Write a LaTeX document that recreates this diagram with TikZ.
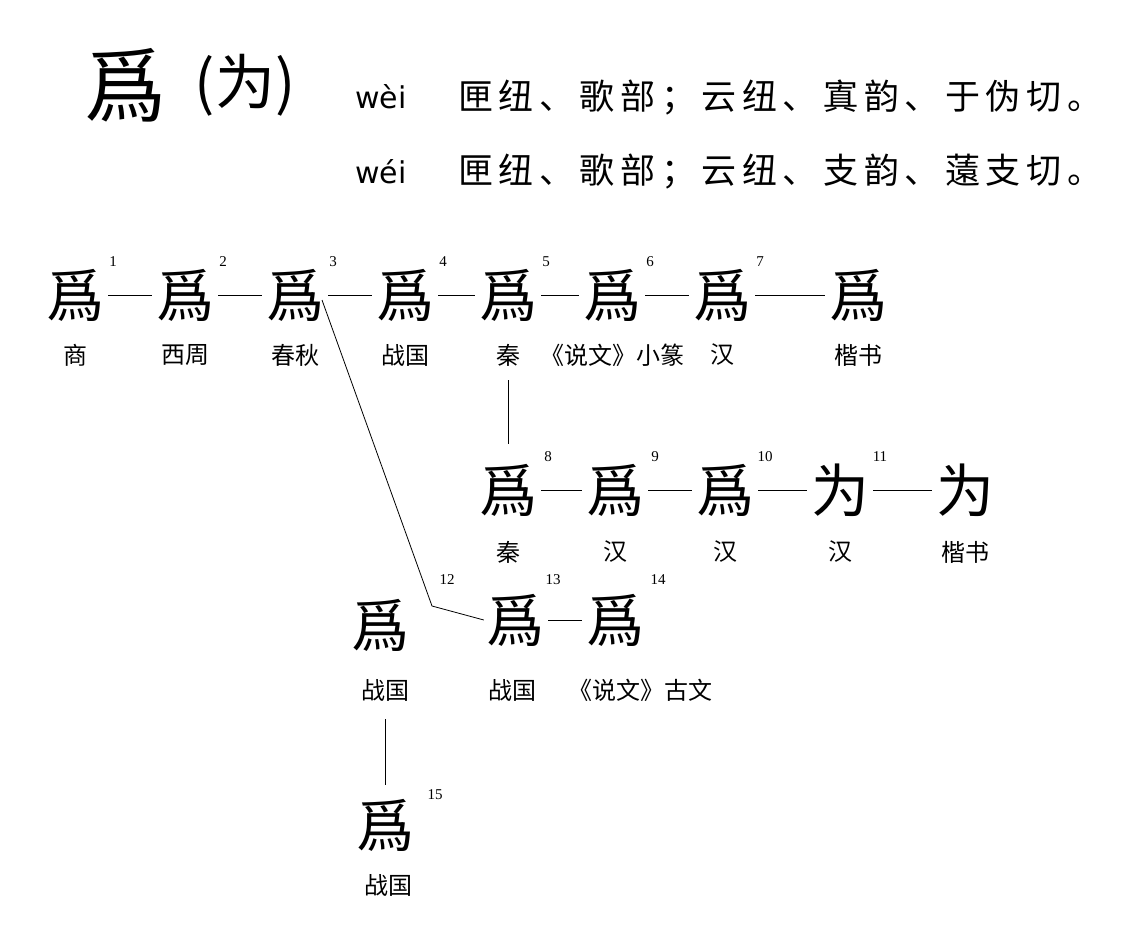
\documentclass[tikz,border=0pt]{standalone}
\usepackage{fontspec}
\newfontfamily\cjk{Noto Sans CJK SC}
\setmainfont{Liberation Serif}
\begin{document}
\begin{tikzpicture}[x=1pt,y=-1pt,
 gl/.style={font=\cjk\fontsize{58}{58}\selectfont,inner sep=0pt},
 lb/.style={font=\cjk\fontsize{24}{24}\selectfont,inner sep=0pt},
 nm/.style={font=\fontsize{15}{15}\selectfont,inner sep=0pt},
 hd/.style={font=\cjk\fontsize{35}{35}\selectfont,inner sep=0pt,anchor=west},
 ln/.style={line width=1pt}]
\useasboundingbox (0,0) rectangle (1135,944);
\node[font=\cjk\fontsize{82}{82}\selectfont,inner sep=0pt] (t1) at (125,85) {爲};
\node[font=\cjk\fontsize{60}{60}\selectfont,inner sep=0pt] (t2) at (245,85) {(为)};
\node[hd] (p1) at (355,97) {\fontspec{DejaVu Sans}\fontsize{30}{30}\selectfont wèi};
\node[hd,font=\cjk\fontsize{35}{35}\selectfont\addfontfeature{LetterSpace=16}] (h1) at (458,97) {匣纽、歌部；云纽、寘韵、于伪切。};
\node[hd] (p2) at (355,172) {\fontspec{DejaVu Sans}\fontsize{30}{30}\selectfont wéi};
\node[hd,font=\cjk\fontsize{35}{35}\selectfont\addfontfeature{LetterSpace=16}] (h2) at (458,172) {匣纽、歌部；云纽、支韵、薳支切。};
% row 1
\foreach \n/\x/\l/\c in {1/75/商/爲,2/185/西周/爲,3/295/春秋/爲,4/405/战国/爲,5/508/秦/爲,6/612/《说文》小篆/爲,7/722/汉/爲}{
 \node[gl] (g\n) at (\x,295) {\c};
 \node[lb] (l\n) at (\x,355) {\l};
 \node[nm] (n\n) at (\x+38,262) {\n};
}
\node[gl] (g0) at (858,295) {爲};
\node[lb] (l0) at (858,355) {楷书};
\foreach \a/\b in {1/2,2/3,3/4,4/5,5/6,6/7,7/0}{\draw[ln] (g\a.east)++(4,0) -- ([xshift=-4pt]g\b.west);}
% row 2
\foreach \n/\x/\c in {8/508/爲,9/615/爲,10/725/爲,11/840/为}{
 \node[gl] (g\n) at (\x,490) {\c};
 \node[nm] (n\n) at (\x+40,457) {\n};
}
\node[lb] (l8) at (508,552) {秦};
\node[lb] (l9) at (615,552) {汉};
\node[lb] (l10) at (725,552) {汉};
\node[lb] (l11) at (840,552) {汉};
\node[gl] (g16) at (965,490) {为};
\node[lb] (l16) at (965,552) {楷书};
\foreach \a/\b in {8/9,9/10,10/11,11/16}{\draw[ln] ([xshift=4pt]g\a.east) -- ([xshift=-4pt]g\b.west);}
\draw[ln] ([yshift=-14pt]l5.south) -- ([yshift=20pt]g8.north);
% row 3
\node[gl] (g12) at (380,625) {爲};
\node[lb] (l12) at (385,690) {战国};
\node[gl] (g13) at (515,620) {爲};
\node[lb] (l13) at (512,690) {战国};
\node[gl] (g14) at (615,620) {爲};
\node[lb] (l14) at (640,690) {《说文》古文};
\node[nm] (n12) at (447,580) {12};
\node[nm] (n13) at (553,580) {13};
\node[nm] (n14) at (658,580) {14};
\coordinate (c1) at (322,300);
\coordinate (c2) at (432,606);
\draw[line width=0.8pt] (c1) -- (c2) -- ([xshift=-2pt]g13.west);
\draw[ln] ([xshift=4pt]g13.east) -- ([xshift=-4pt]g14.west);
\node[gl] (g15) at (385,825) {爲};
\node[nm] (n15) at (435,795) {15};
\node[lb] (l15) at (388,885) {战国};
\draw[ln] ([yshift=-18pt]l12.south) -- ([yshift=14pt]g15.north);
\end{tikzpicture}
\end{document}
